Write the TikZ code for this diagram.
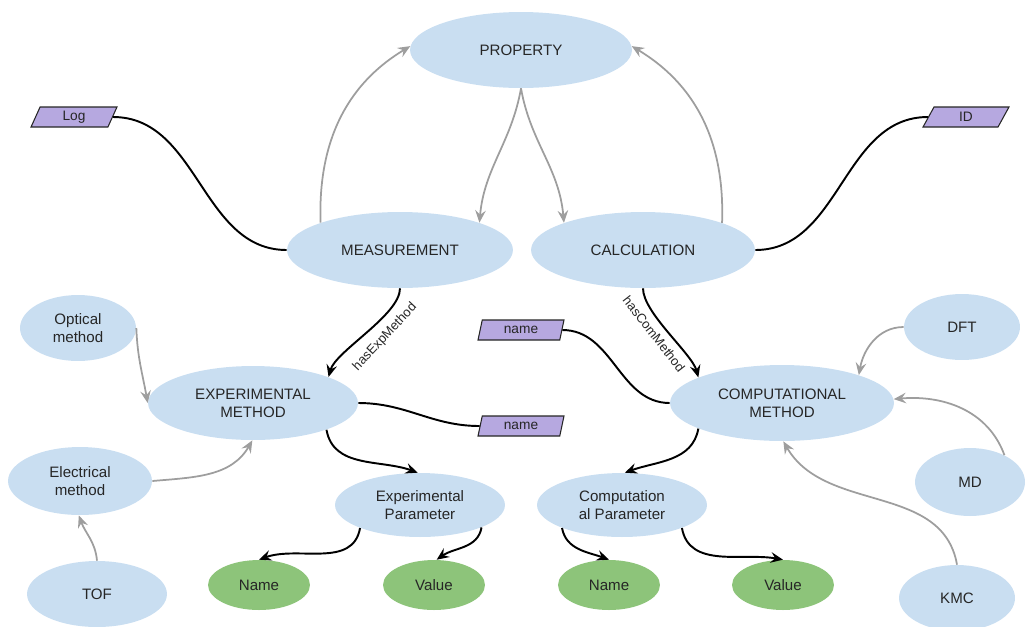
\documentclass[tikz,border=0pt]{standalone}
\usepackage{fontspec}
\setmainfont{Liberation Sans}
\usetikzlibrary{shapes.geometric,arrows.meta}
\definecolor{blueF}{RGB}{201,222,241}
\definecolor{greenF}{RGB}{141,196,122}
\definecolor{purpF}{RGB}{182,168,224}
\definecolor{grayL}{RGB}{158,158,158}
\definecolor{txt}{RGB}{38,38,38}
\begin{document}
\begin{tikzpicture}[x=0.02cm,y=-0.02cm,
 every node/.style={text=txt, font=\fontsize{8.6}{10.4}\selectfont},
 sz/.style 2 args={minimum width=#1*0.04cm, minimum height=#2*0.04cm},
 bnode/.style={ellipse, fill=blueF, inner sep=0pt, align=center},
 gnode/.style={ellipse, fill=greenF, inner sep=0pt},
 tag/.style={trapezium, trapezium left angle=76, trapezium right angle=104, trapezium stretches=true, fill=purpF, draw=black!85, line width=0.6pt, minimum width=1.72cm, minimum height=0.4cm, inner sep=0pt, font=\fontsize{7.8}{9}\selectfont},
 blk/.style={draw=black, line width=1.1pt},
 blka/.style={blk, -{Stealth[length=7pt,width=6pt,inset=2.5pt]}},
 gra/.style={draw=grayL, line width=1pt, -{Stealth[length=7pt,width=6pt,inset=2.5pt]}},
 lbl/.style={font=\fontsize{7.4}{9}\selectfont, inner sep=0pt}
]
\useasboundingbox (0,0) rectangle (1026,626);
\node[bnode, sz={111}{38}] (prop) at (521,50) {PROPERTY};
\node[bnode, sz={113}{38}] (meas) at (400,250) {MEASUREMENT};
\node[bnode, sz={112}{38}] (calc) at (643,250) {CALCULATION};
\node[tag] (log) at (74,117) {Log};
\node[tag] (id) at (966,117) {ID};
\node[bnode, sz={58}{33}] (opt) at (78,328) {Optical\\method};
\node[bnode, sz={105}{37}] (exp) at (253,403) {EXPERIMENTAL\\METHOD};
\node[tag] (name1) at (521,330) {name};
\node[tag] (name2) at (521,426) {name};
\node[bnode, sz={112}{38}] (comp) at (782,403) {COMPUTATIONAL\\METHOD};
\node[bnode, sz={58}{33}] (dft) at (962,327) {DFT};
\node[bnode, sz={72}{34}] (elec) at (80,481) {Electrical\\method};
\node[bnode, sz={85}{32}] (epar) at (420,505) {Experimental\\Parameter};
\node[bnode, sz={85}{32}] (cpar) at (622,505) {Computation\\al Parameter};
\node[bnode, sz={55}{34}] (md) at (970,482) {MD};
\node[bnode, sz={70}{33}] (tof) at (97,594) {TOF};
\node[gnode, sz={51}{25}] (n1) at (259,585) {Name};
\node[gnode, sz={51}{25}] (v1) at (434,585) {Value};
\node[gnode, sz={51}{25}] (n2) at (609,585) {Name};
\node[gnode, sz={51}{25}] (v2) at (783,585) {Value};
\node[bnode, sz={58}{33}] (kmc) at (957,598) {KMC};
% gray connectors
\draw[gra] (meas.161) to[out=92,in=211] (prop.178);
\draw[gra] (calc.19) to[out=88,in=-31] (prop.2);
\draw[gra] (prop.-90) to[out=-100,in=85] (meas.19);
\draw[gra] (prop.-90) to[out=-80,in=95] (calc.161);
\draw[gra] (opt.0) to[out=-88,in=100] (exp.180);
\draw[gra] (elec.0) to[out=5,in=-120] (exp.-91);
\draw[gra] (tof.90) to[out=95,in=-70] (elec.-92);
\draw[gra] (dft.180) to[out=180,in=80] (comp.20);
\draw[gra] (md.38) to[out=110,in=5] (comp.2);
\draw[gra] (kmc.90) to[out=100,in=-60] (comp.-88);
% black connectors
\draw[blk] (log.east) to[out=0,in=180] (meas.west);
\draw[blk] (id.west) to[out=180,in=0] (calc.east);
\draw[blk] (name1.east) to[out=0,in=180] (comp.west);
\draw[blk] (exp.east) to[out=0,in=180] (name2.west);
\draw[blka] (meas.-90) to[out=-90,in=75,looseness=0.6] (exp.19);
\draw[blka] (calc.-90) to[out=-90,in=105,looseness=0.6] (comp.163);
\draw[blka] (exp.-20) to[out=-80,in=160] (epar.94);
\draw[blka] (comp.-163) to[out=-100,in=20] (cpar.85);
\draw[blka] (epar.-159) to[out=-100,in=20] (n1.90);
\draw[blka] (epar.-20) to[out=-100,in=35] (v1.84);
\draw[blka] (cpar.-159) to[out=-80,in=160] (n2.90);
\draw[blka] (cpar.-21) to[out=-80,in=170] (v2.90);
\node[lbl, rotate=47] (lexp) at (385,337) {hasExpMethod};
\node[lbl, rotate=-52] (lcom) at (654,334) {hasComMethod};
\end{tikzpicture}
\end{document}
